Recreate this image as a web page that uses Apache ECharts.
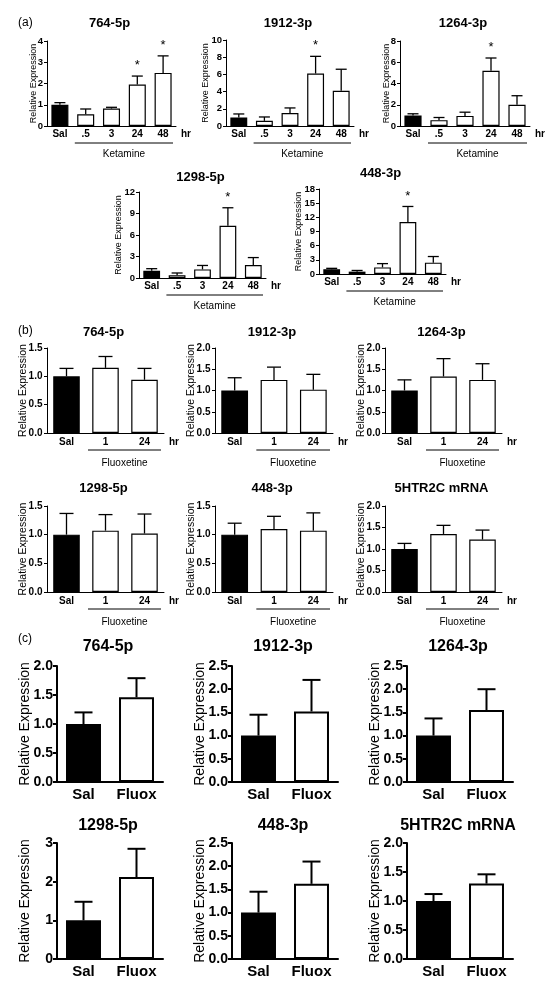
<!DOCTYPE html>
<html><head><meta charset="utf-8">
<script src="https://cdn.jsdelivr.net/npm/echarts@6/dist/echarts.min.js"></script>
<style>html,body{margin:0;padding:0;background:#fff}#c{width:554px;height:991px}</style>
</head><body><div id="c"></div>
<script>
// ---------- categories ----------
const ketCats = ['Sal', '.5', '3', '24', '48'];
const fluCats = ['Sal', '1', '24'];
const cCats = ['Sal', 'Fluox'];

// ---------- panel (a): ketamine time course (mean, top of error bar, significance) ----------
const a764Mean = [1.0, 0.55, 0.82, 1.95, 2.5];
const a764Top  = [1.1, 0.8, 0.88, 2.35, 3.3];
const a764Sig  = [0, 0, 0, 1, 1];
const a1912Mean = [1.0, 0.6, 1.5, 6.1, 4.1];
const a1912Top  = [1.4, 1.05, 2.1, 8.1, 6.6];
const a1912Sig  = [0, 0, 0, 1, 0];
const a1264Mean = [1.0, 0.55, 0.95, 5.2, 2.0];
const a1264Top  = [1.15, 0.8, 1.3, 6.4, 2.85];
const a1264Sig  = [0, 0, 0, 1, 0];
const a1298Mean = [1.0, 0.4, 1.2, 7.3, 1.8];
const a1298Top  = [1.3, 0.7, 1.75, 9.8, 2.85];
const a1298Sig  = [0, 0, 0, 1, 0];
const a448Mean = [1.0, 0.5, 1.4, 11.0, 2.4];
const a448Top  = [1.2, 0.75, 2.2, 14.3, 3.7];
const a448Sig  = [0, 0, 0, 1, 0];

// ---------- panel (b): fluoxetine time course ----------
const b764Mean = [1.0, 1.15, 0.94];
const b764Top  = [1.14, 1.35, 1.14];
const b1912Mean = [1.0, 1.25, 1.02];
const b1912Top  = [1.3, 1.55, 1.38];
const b1264Mean = [1.0, 1.33, 1.25];
const b1264Top  = [1.25, 1.75, 1.63];
const b1298Mean = [1.0, 1.07, 1.02];
const b1298Top  = [1.37, 1.35, 1.36];
const b448Mean = [1.0, 1.1, 1.07];
const b448Top  = [1.2, 1.32, 1.38];
const b5htMean = [1.0, 1.35, 1.22];
const b5htTop  = [1.13, 1.55, 1.44];
const noSig3 = [0, 0, 0];

// ---------- panel (c): chronic fluoxetine ----------
const c764Mean = [1.0, 1.46];
const c764Top  = [1.2, 1.79];
const c1912Mean = [1.0, 1.52];
const c1912Top  = [1.45, 2.2];
const c1264Mean = [1.0, 1.55];
const c1264Top  = [1.37, 2.0];
const c1298Mean = [1.0, 2.12];
const c1298Top  = [1.48, 2.85];
const c448Mean = [1.0, 1.62];
const c448Top  = [1.45, 2.1];
const c5htMean = [1.0, 1.3];
const c5htTop  = [1.12, 1.46];
const noSig2 = [0, 0];

// ---------- axis ranges (max, interval) ----------
const axA = [[4, 1], [10, 2], [8, 2], [12, 3], [18, 3]];
const axB = [[1.5, 0.5], [2.0, 0.5], [2.0, 0.5], [1.5, 0.5], [1.5, 0.5], [2.0, 0.5]];
const axC = [[2.0, 0.5], [2.5, 0.5], [2.5, 0.5], [3, 1], [2.5, 0.5], [2.0, 0.5]];

const titlesA = ['764-5p', '1912-3p', '1264-3p', '1298-5p', '448-3p'];
const titlesB = ['764-5p', '1912-3p', '1264-3p', '1298-5p', '448-3p', '5HTR2C mRNA'];
const titlesC = ['764-5p', '1912-3p', '1264-3p', '1298-5p', '448-3p', '5HTR2C mRNA'];
const panelLabels = ['(a)', '(b)', '(c)'];
const groupA = 'Ketamine', groupB = 'Fluoxetine', unitLabel = 'hr';
const yName = 'Relative Expression';

// ---------- styles / layout ----------
const FONT = "'Liberation Sans', Arial, sans-serif";
const ST = {
  A: {tick: 9.5, cat: 10, title: 13, name: 9, gap: 9, gap2: 16, bw: 1.2, ew: 1.3, cap: 11, aw: 1, barW: '66%', tickLen: 3, yMargin: 4, lblMargin: 3, line: 17, text: 28, group: groupA, dec: 0},
  B: {tick: 10, cat: 10, title: 13, name: 10.5, gap: 18, gap2: 18, bw: 1.2, ew: 1.3, cap: 14, aw: 1, barW: '68%', tickLen: 3, yMargin: 4.5, lblMargin: 4, line: 17, text: 30, group: groupB, dec: 1},
  C: {tick: 14, cat: 15, title: 16, name: 14, gap: 24.5, gap2: 24.5, bw: 2, ew: 2, cap: 18, aw: 2, barW: '66%', tickLen: 4, yMargin: 4, lblMargin: 5, line: 0, text: 0, group: null, dec: 1}
};

const specs = [
  {p: 'A', t: titlesA[0], cats: ketCats, m: a764Mean, e: a764Top, s: a764Sig, ax: axA[0], L: [47, 41, 129, 85], ty: 23},
  {p: 'A', t: titlesA[1], cats: ketCats, m: a1912Mean, e: a1912Top, s: a1912Sig, ax: axA[1], L: [226, 40, 128, 86], ty: 23},
  {p: 'A', t: titlesA[2], cats: ketCats, m: a1264Mean, e: a1264Top, s: a1264Sig, ax: axA[2], L: [400, 41, 130, 85], ty: 23},
  {p: 'A', t: titlesA[3], cats: ketCats, m: a1298Mean, e: a1298Top, s: a1298Sig, ax: axA[3], L: [139, 192, 127, 86], ty: 177},
  {p: 'A', t: titlesA[4], cats: ketCats, m: a448Mean, e: a448Top, s: a448Sig, ax: axA[4], L: [319, 189, 127, 85], ty: 173},
  {p: 'B', t: titlesB[0], cats: fluCats, m: b764Mean, e: b764Top, s: noSig3, ax: axB[0], L: [47, 348, 117, 85], ty: 332},
  {p: 'B', t: titlesB[1], cats: fluCats, m: b1912Mean, e: b1912Top, s: noSig3, ax: axB[1], L: [215, 348, 118, 85], ty: 332},
  {p: 'B', t: titlesB[2], cats: fluCats, m: b1264Mean, e: b1264Top, s: noSig3, ax: axB[2], L: [385, 348, 117, 85], ty: 332},
  {p: 'B', t: titlesB[3], cats: fluCats, m: b1298Mean, e: b1298Top, s: noSig3, ax: axB[3], L: [47, 506, 117, 86], ty: 488},
  {p: 'B', t: titlesB[4], cats: fluCats, m: b448Mean, e: b448Top, s: noSig3, ax: axB[4], L: [215, 506, 118, 86], ty: 488},
  {p: 'B', t: titlesB[5], cats: fluCats, m: b5htMean, e: b5htTop, s: noSig3, ax: axB[5], L: [385, 506, 117, 86], ty: 488},
  {p: 'C', t: titlesC[0], cats: cCats, m: c764Mean, e: c764Top, s: noSig2, ax: axC[0], L: [57, 666, 106, 116], ty: 647},
  {p: 'C', t: titlesC[1], cats: cCats, m: c1912Mean, e: c1912Top, s: noSig2, ax: axC[1], L: [232, 666, 106, 116], ty: 647},
  {p: 'C', t: titlesC[2], cats: cCats, m: c1264Mean, e: c1264Top, s: noSig2, ax: axC[2], L: [407, 666, 106, 116], ty: 647},
  {p: 'C', t: titlesC[3], cats: cCats, m: c1298Mean, e: c1298Top, s: noSig2, ax: axC[3], L: [57, 843, 106, 116], ty: 826},
  {p: 'C', t: titlesC[4], cats: cCats, m: c448Mean, e: c448Top, s: noSig2, ax: axC[4], L: [232, 843, 106, 116], ty: 826},
  {p: 'C', t: titlesC[5], cats: cCats, m: c5htMean, e: c5htTop, s: noSig2, ax: axC[5], L: [407, 843, 106, 116], ty: 826}
];

const grid = [], xAxis = [], yAxis = [], series = [], graphic = [];

specs.forEach((sp, k) => {
  const st = ST[sp.p];
  const [l, t, w, h] = sp.L;
  grid.push({left: l, top: t, width: w, height: h, containLabel: false});
  const dec = (sp.ax[1] >= 1) ? 0 : st.dec;
  const gap = sp.ax[0] >= 10 ? st.gap2 : st.gap;
  xAxis.push({
    type: 'category', gridIndex: k, data: sp.cats,
    axisLine: {lineStyle: {color: '#000', width: st.aw}},
    axisTick: {show: false},
    axisLabel: {color: '#000', fontFamily: FONT, fontWeight: 'bold', fontSize: st.cat, margin: st.lblMargin, interval: 0}
  });
  yAxis.push({
    type: 'value', gridIndex: k, min: 0, max: sp.ax[0], interval: sp.ax[1],
    name: yName, nameLocation: 'middle', nameGap: gap, nameMoveOverlap: false,
    nameTextStyle: {color: '#000', fontFamily: FONT, fontSize: st.name, verticalAlign: 'bottom'},
    axisLine: {show: true, lineStyle: {color: '#000', width: st.aw}},
    axisTick: {show: true, length: st.tickLen, lineStyle: {color: '#000', width: st.aw}},
    splitLine: {show: false},
    axisLabel: {color: '#000', fontFamily: FONT, fontWeight: 'bold', fontSize: st.tick, margin: st.yMargin,
      formatter: v => v.toFixed(dec)}
  });
  series.push({
    type: 'bar', xAxisIndex: k, yAxisIndex: k, barWidth: st.barW, animation: false,
    data: sp.m.map((v, i) => ({value: v, itemStyle: {color: i === 0 ? '#000' : '#fff', borderColor: '#000', borderWidth: st.bw}}))
  });
  const n = sp.cats.length;
  series.push({
    type: 'custom', xAxisIndex: k, yAxisIndex: k, clip: false, z: 5, animation: false,
    data: sp.m.map((v, i) => [i, sp.e[i], v, sp.s[i]]),
    encode: {x: 0, y: 1},
    renderItem: (params, api) => {
      const i = params.dataIndex;
      const mean = api.value(2), top = api.value(1), sig = api.value(3);
      const p0 = api.coord([i, mean]);
      const p1 = api.coord([i, top]);
      const band = api.size([1, 0])[0];
      const base = api.coord([0, 0])[1];
      const ch = [];
      const ls = {stroke: '#000', lineWidth: st.ew};
      ch.push({type: 'line', shape: {x1: p0[0], y1: p0[1], x2: p1[0], y2: p1[1]}, style: ls});
      ch.push({type: 'line', shape: {x1: p1[0] - st.cap / 2, y1: p1[1], x2: p1[0] + st.cap / 2, y2: p1[1]}, style: ls});
      if (sig) ch.push({type: 'text', x: p1[0], y: p1[1] - 4, style: {text: '*', fontFamily: FONT, fontSize: 13, fill: '#000', align: 'center', verticalAlign: 'bottom'}});
      if (st.group && i === 1) {
        const x1 = p0[0] - band / 2 + 2;
        const x2 = api.coord([n - 1, 0])[0] + band / 2 - 3;
        ch.push({type: 'line', shape: {x1: x1, y1: base + st.line, x2: x2, y2: base + st.line}, style: {stroke: '#000', lineWidth: 1}});
        ch.push({type: 'text', x: (x1 + x2) / 2, y: base + st.text, style: {text: st.group, fontFamily: FONT, fontSize: 10, fill: '#000', align: 'center', verticalAlign: 'middle'}});
      }
      if (st.group && i === n - 1) {
        ch.push({type: 'text', x: p0[0] + band / 2 + 5, y: base + st.lblMargin, style: {text: unitLabel, fontFamily: FONT, fontSize: 10, fontWeight: 'bold', fill: '#000', align: 'left', verticalAlign: 'top'}});
      }
      return {type: 'group', children: ch};
    }
  });
  graphic.push({type: 'text', x: l + w / 2 - 2, y: sp.ty, style: {text: sp.t, fontFamily: FONT, fontWeight: 'bold', fontSize: st.title, fill: '#000', align: 'center', verticalAlign: 'middle'}});
});

[[18, 23], [18, 331], [18, 639]].forEach((pos, i) => {
  graphic.push({type: 'text', x: pos[0], y: pos[1], style: {text: panelLabels[i], fontFamily: FONT, fontSize: 12, fill: '#000', align: 'left', verticalAlign: 'middle'}});
});

const chart = echarts.init(document.getElementById('c'), null, {renderer: 'canvas'});
chart.setOption({animation: false, backgroundColor: '#fff', grid, xAxis, yAxis, series, graphic});
</script>
</body></html>
